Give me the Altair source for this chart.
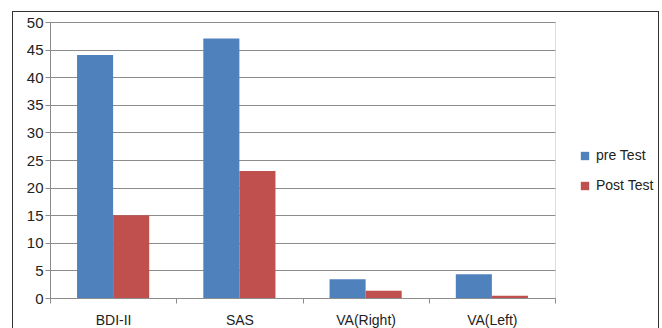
import altair as alt
import pandas as pd

categories = ["BDI-II", "SAS", "VA(Right)", "VA(Left)"]
series = ["pre Test", "Post Test"]
pre_values = [44, 47, 3.4, 4.3]
post_values = [15, 23, 1.3, 0.4]
colors = ["#4F81BD", "#C0504D"]

rows = []
for c, a, b in zip(categories, pre_values, post_values):
    rows.append({"cat": c, "series": series[0], "value": a})
    rows.append({"cat": c, "series": series[1], "value": b})
df = pd.DataFrame(rows)

FONT = "Liberation Sans"

bars = alt.Chart(df).mark_bar().encode(
    x=alt.X("cat:N", sort=categories, title=None,
            scale=alt.Scale(paddingInner=0, paddingOuter=0),
            axis=alt.Axis(labelAngle=0, tickBand="extent", domainColor="#8c8c8c",
                          tickColor="#8c8c8c", tickSize=5, labelPadding=10,
                          labelFontSize=14, labelFont=FONT, labelColor="#222")),
    xOffset=alt.XOffset("series:N", sort=series,
                        scale=alt.Scale(paddingInner=0, paddingOuter=0.75)),
    y=alt.Y("value:Q", title=None,
            scale=alt.Scale(domain=[0, 50], nice=False),
            axis=alt.Axis(values=list(range(0, 51, 5)), grid=True, gridColor="#8c8c8c",
                          domainColor="#8c8c8c", tickColor="#8c8c8c", tickSize=5,
                          labelPadding=2, labelFontSize=15, labelFont=FONT, labelColor="#222")),
    color=alt.Color("series:N", sort=series,
                    scale=alt.Scale(domain=series, range=colors),
                    legend=alt.Legend(title=None, orient="none", legendX=528, legendY=127,
                                      symbolType="square", symbolSize=70, symbolStrokeWidth=0,
                                      rowPadding=16, labelFontSize=14, labelFont=FONT,
                                      labelColor="#222", labelOffset=4)),
)

border = alt.Chart(df).mark_rect(fill=None, stroke="#333", strokeWidth=1).encode(
    x=alt.value(-37.5), x2=alt.value(608.5), y=alt.value(-10.5), y2=alt.value(330)
)

chart = alt.layer(border, bars).properties(
    width=505, height=276,
    autosize=alt.AutoSizeParams(type="none"),
    padding={"left": 50, "top": 22, "right": 107, "bottom": 30},
).configure_view(stroke=None).configure(background="white")

chart.save("out.html", embed_options={"renderer": "svg", "actions": False})
